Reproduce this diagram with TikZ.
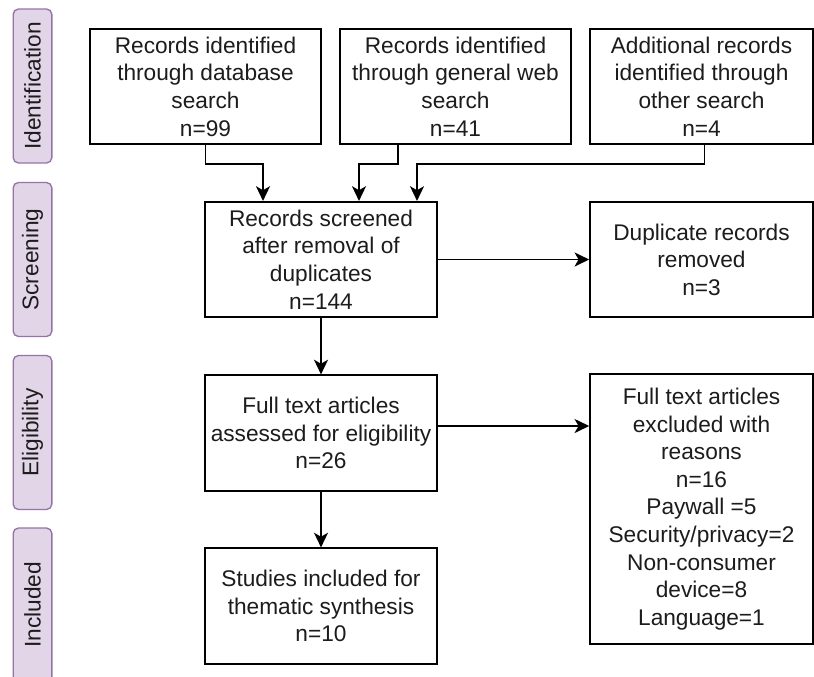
\documentclass[tikz,border=0pt]{standalone}
\usepackage{fontspec}
\setmainfont{Liberation Sans}
\usetikzlibrary{arrows.meta,calc}
\definecolor{stagefill}{HTML}{E1D5E7}
\definecolor{stageline}{HTML}{9673A6}
\definecolor{ink}{HTML}{1C1C1C}

\begin{document}
\begin{tikzpicture}[x=0.75pt,y=-0.75pt,font=\fontsize{17}{20.7}\selectfont,
  stage/.style={draw=stageline,fill=stagefill,line width=1pt,rounded corners=4pt,rotate=90,minimum width=115.5pt,minimum height=29pt,inner sep=0pt,text=ink},
  record/.style={draw=black,fill=white,line width=1.4pt,minimum width=173.5pt,minimum height=86.5pt,inner sep=2pt,align=center,text=ink},
  side/.style={record,minimum width=167pt},
  arr/.style={draw=black,line width=1.4pt,-{Stealth[length=11pt,width=10.5pt,inset=3pt]}}]
  \useasboundingbox (0,0) rectangle (814,676);
  % phase labels
  \node[stage] (ident) at (32.5,86) {Identification};
  \node[stage] (screen) at (32.5,259.5) {Screening};
  \node[stage] (elig) at (32.5,432.5) {Eligibility};
  \node[stage] (incl) at (32.5,605) {Included};
  % records
  \node[record] (dbsearch) at (205.5,86.5) {Records identified\\through database\\search\\n=99};
  \node[record] (websearch) at (455.5,86.5) {Records identified\\through general web\\search\\n=41};
  \node[side] (othersearch) at (701.5,86.5) {Additional records\\identified through\\other search\\n=4};
  \node[record] (screened) at (321,259.5) {Records screened\\after removal of\\duplicates\\n=144};
  \node[side] (duplicates) at (701.5,259.5) {Duplicate records\\removed\\n=3};
  \node[record] (fulltext) at (321,433) {Full text articles\\assessed for eligibility\\n=26};
  \node[side,minimum height=202.5pt] (excluded) at (701.5,509) {Full text articles\\excluded with\\reasons\\n=16\\Paywall =5\\Security/privacy=2\\Non-consumer\\device=8\\Language=1};
  \node[record] (studies) at (321,606) {Studies included for\\thematic synthesis\\n=10};
  % connectors
  \draw[arr] (dbsearch.south) -- ++(0,19) -| ($(screened.north)+(-58,0)$);
  \draw[arr] ($(websearch.south)+(-57.5,0)$) -- ++(0,19) -| ($(screened.north)+(38,0)$);
  \draw[arr] ($(othersearch.south)+(3,0)$) -- ++(0,19) -| ($(screened.north)+(96,0)$);
  \draw[arr] (screened.east) -- (duplicates.west);
  \draw[arr] (screened) -- (fulltext);
  \draw[arr] ($(fulltext.east)+(0,-7)$) -- ($(excluded.west |- fulltext.east)+(0,-7)$);
  \draw[arr] (fulltext) -- (studies);
\end{tikzpicture}
\end{document}
